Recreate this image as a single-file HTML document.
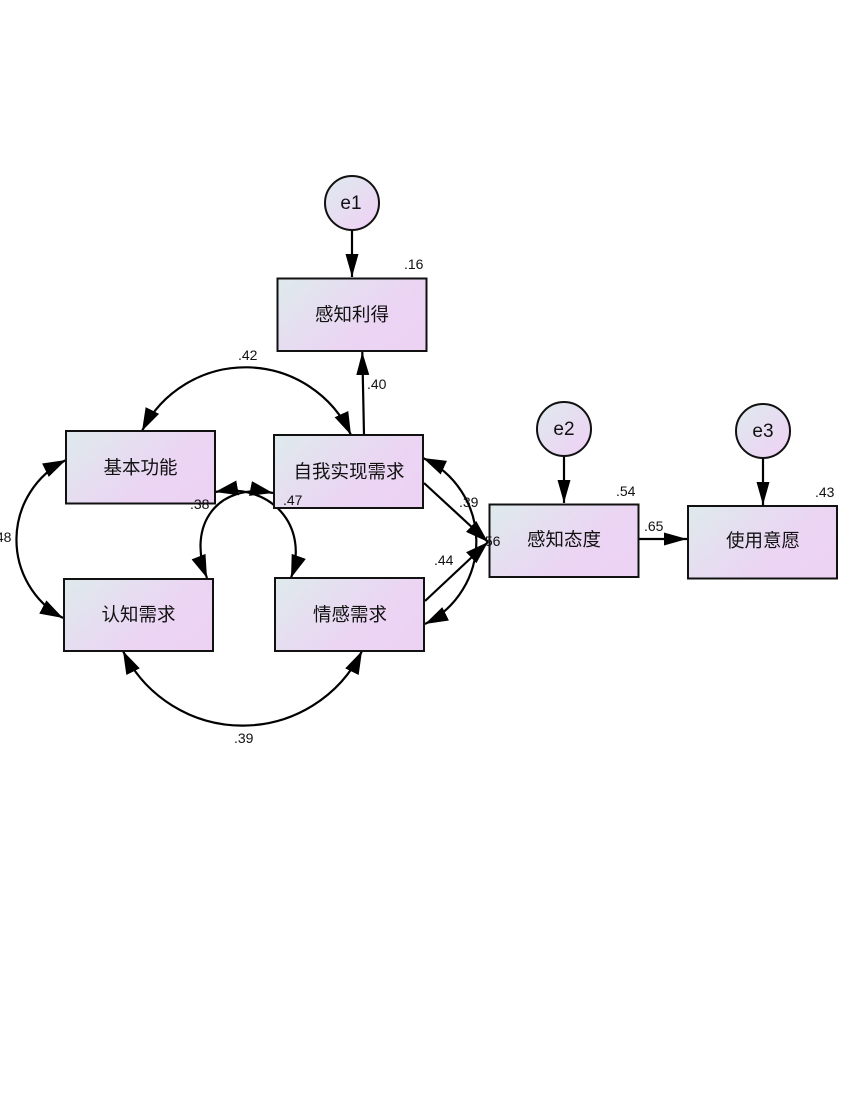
<!DOCTYPE html>
<html>
<head>
<meta charset="utf-8">
<style>
html,body{margin:0;padding:0;background:#fff}
svg{display:block}
.n{font-family:"Liberation Sans",sans-serif;font-size:14px;fill:#111}
.c{font-family:"Liberation Sans","Noto Sans CJK SC",sans-serif;font-size:18.5px;fill:#111;text-anchor:middle}
.e{font-family:"Liberation Sans",sans-serif;font-size:19px;fill:#111;text-anchor:middle}
.b{stroke:#111;stroke-width:2}
.l{fill:none;stroke:#000;stroke-width:2.2}
</style>
</head>
<body>
<svg width="850" height="1100" viewBox="0 0 850 1100" xmlns="http://www.w3.org/2000/svg">
<defs>
<linearGradient id="g" x1="0" y1="0" x2="1" y2="0.55">
<stop offset="0" stop-color="#deeaec"/>
<stop offset="0.72" stop-color="#ebd5f3"/>
<stop offset="1" stop-color="#ecd3f4"/>
</linearGradient>
<linearGradient id="h" x1="0.1" y1="0.1" x2="0.85" y2="0.9">
<stop offset="0" stop-color="#e0e8ee"/>
<stop offset="1" stop-color="#edd3f4"/>
</linearGradient>
<marker id="a" markerUnits="userSpaceOnUse" markerWidth="26" markerHeight="20" refX="23" refY="10" orient="auto-start-reverse">
<path d="M0 3.500L23 10L0 16.500z" fill="#000"/>
</marker>
<marker id="c" markerUnits="userSpaceOnUse" markerWidth="26" markerHeight="22" refX="23" refY="11" orient="auto-start-reverse">
<path d="M0 3.500L23 11L0 18.500z" fill="#000"/>
</marker>
</defs>

<path class="l" d="M352 230V277" marker-end="url(#a)"/>
<path class="l" d="M364 435L362.300 352" marker-end="url(#a)"/>
<path class="l" d="M564 456V503" marker-end="url(#a)"/>
<path class="l" d="M763 458V505" marker-end="url(#a)"/>
<path class="l" d="M639 539H687" marker-end="url(#a)"/>
<path class="l" d="M424 483L488 542" marker-end="url(#c)"/>
<path class="l" d="M425 601L488 542" marker-end="url(#c)"/>

<path class="l" d="M142 431A116 116 0 0 1 351 435" marker-start="url(#c)" marker-end="url(#c)"/>
<path class="l" d="M123 651A133 133 0 0 0 362 651" marker-start="url(#c)" marker-end="url(#c)"/>
<path class="l" d="M66 460A89 89 0 0 0 63 618" marker-start="url(#c)" marker-end="url(#c)"/>
<path class="l" d="M423 458A92 92 0 0 1 425 624" marker-start="url(#c)" marker-end="url(#c)"/>
<path class="l" d="M215 492C270 482 310 525 291 578" marker-start="url(#c)" marker-end="url(#c)"/>
<path class="l" d="M273 493C218 482 186 525 207 578" marker-start="url(#c)" marker-end="url(#c)"/>

<rect class="b" x="277.500" y="278.500" width="149" height="72.500" fill="url(#g)"/>
<rect class="b" x="66" y="431" width="149" height="72.500" fill="url(#g)"/>
<rect class="b" x="274" y="435" width="149" height="73" fill="url(#g)"/>
<rect class="b" x="64" y="579" width="149" height="72" fill="url(#g)"/>
<rect class="b" x="275" y="578" width="149" height="73" fill="url(#g)"/>
<rect class="b" x="489.500" y="504.500" width="149" height="72.500" fill="url(#g)"/>
<rect class="b" x="688" y="506" width="149" height="72.500" fill="url(#g)"/>

<circle class="b" cx="352" cy="203" r="27" fill="url(#h)"/>
<circle class="b" cx="564" cy="429" r="27" fill="url(#h)"/>
<circle class="b" cx="763" cy="431" r="27" fill="url(#h)"/>

<text class="c" x="352" y="321">感知利得</text>
<text class="c" x="140.500" y="474">基本功能</text>
<text class="c" x="349" y="478">自我实现需求</text>
<text class="c" x="138.500" y="621">认知需求</text>
<text class="c" x="350" y="621">情感需求</text>
<text class="c" x="564" y="546">感知态度</text>
<text class="c" x="763" y="547">使用意愿</text>

<text class="e" x="351" y="209">e1</text>
<text class="e" x="564" y="435">e2</text>
<text class="e" x="763" y="437">e3</text>

<text class="n" x="404" y="269">.16</text>
<text class="n" x="238" y="360">.42</text>
<text class="n" x="367" y="389">.40</text>
<text class="n" x="459" y="507">.39</text>
<text class="n" x="616" y="496">.54</text>
<text class="n" x="815" y="497">.43</text>
<text class="n" x="644" y="531">.65</text>
<text class="n" x="434" y="565">.44</text>
<text class="n" x="481" y="546">.56</text>
<text class="n" x="283" y="505">.47</text>
<text class="n" x="190" y="509">.38</text>
<text class="n" x="-8" y="542">.48</text>
<text class="n" x="234" y="743">.39</text>
</svg>
</body>
</html>
